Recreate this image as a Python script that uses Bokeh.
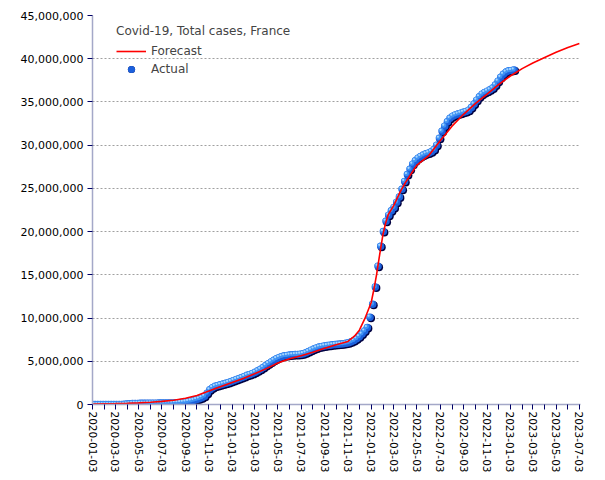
import pandas as pd
from bokeh.plotting import figure
from bokeh.models import (Range1d, FixedTicker, NumeralTickFormatter, DatetimeTickFormatter,
                          Legend, LegendItem, ColumnDataSource)
from bokeh.embed import file_html
from bokeh.resources import INLINE

# ---------------- data ----------------
title_text = "Covid-19, Total cases, France"

actual_start = "2020-01-03"   # weekly observations
actual_values_m = [
    0.0, 0.0, 0.0, 0.0, 0.0, 0.0, 0.0, 0.0, 0.0, 0.0,
    0.003, 0.012, 0.03, 0.06, 0.085, 0.105, 0.12, 0.13, 0.138, 0.142,
    0.145, 0.148, 0.152, 0.155, 0.158, 0.162, 0.166, 0.17, 0.175, 0.18,
    0.187, 0.2, 0.215, 0.24, 0.265, 0.3, 0.35, 0.41, 0.48, 0.57,
    0.66, 0.78, 0.96, 1.3, 1.7, 1.95, 2.1, 2.2, 2.28, 2.36,
    2.45, 2.55, 2.65, 2.78, 2.9, 3.0, 3.12, 3.25, 3.37, 3.48,
    3.6, 3.73, 3.9, 4.07, 4.28, 4.5, 4.72, 4.93, 5.12, 5.3,
    5.45, 5.55, 5.63, 5.68, 5.72, 5.75, 5.77, 5.79, 5.82, 5.88,
    5.98, 6.12, 6.28, 6.42, 6.55, 6.65, 6.72, 6.78, 6.82, 6.86,
    6.9, 6.93, 6.96, 6.99, 7.03, 7.08, 7.15, 7.25, 7.4, 7.6,
    7.85, 8.15, 8.5, 8.9, 10.1, 11.6, 13.6, 16.0, 18.3, 20.0,
    21.2, 21.9, 22.4, 22.8, 23.4, 24.0, 24.9, 25.8, 26.6, 27.2,
    27.8, 28.2, 28.5, 28.7, 28.85, 29.0, 29.1, 29.25, 29.5, 30.0,
    30.8, 31.6, 32.2, 32.7, 33.1, 33.35, 33.5, 33.6, 33.7, 33.8,
    33.9, 34.05, 34.35, 34.75, 35.2, 35.6, 35.9, 36.1, 36.25, 36.4,
    36.6, 36.95, 37.4, 37.85, 38.2, 38.45, 38.6, 38.65, 38.7,
]

forecast_dates = [
    "2020-01-03", "2020-02-03", "2020-03-03", "2020-04-03", "2020-05-03", "2020-06-03",
    "2020-07-03", "2020-08-03", "2020-09-03", "2020-10-03", "2020-11-03", "2020-12-03",
    "2021-01-03", "2021-02-03", "2021-03-03", "2021-04-03", "2021-05-03", "2021-06-03",
    "2021-07-03", "2021-08-03", "2021-09-03", "2021-10-03", "2021-11-03", "2021-11-20",
    "2021-12-03", "2021-12-17", "2022-01-03", "2022-01-10", "2022-01-17", "2022-01-24",
    "2022-02-03", "2022-02-10", "2022-02-17", "2022-03-03", "2022-03-20", "2022-04-03",
    "2022-05-03", "2022-06-03", "2022-07-03", "2022-08-03", "2022-09-03", "2022-10-03",
    "2022-11-03", "2022-12-03", "2023-01-03", "2023-02-03", "2023-03-03", "2023-04-03",
    "2023-05-03", "2023-06-03", "2023-07-03",
]
forecast_values_m = [
    0.05, 0.08, 0.1, 0.14, 0.19, 0.26,
    0.36, 0.5, 0.72, 1.05, 1.55, 2.05,
    2.55, 3.05, 3.55, 4.15, 4.8, 5.3,
    5.65, 6.05, 6.5, 6.9, 7.3, 7.9,
    8.6, 9.9, 11.8, 13.3, 15.0, 17.0,
    19.7, 21.0, 22.0, 23.0, 24.6, 25.7,
    27.7, 28.8, 30.5, 32.2, 33.6, 34.8,
    35.9, 37.0, 38.0, 38.85, 39.5, 40.15,
    40.75, 41.3, 41.75,
]

tick_labels = [
    "2020-01-03", "2020-03-03", "2020-05-03", "2020-07-03", "2020-09-03", "2020-11-03",
    "2021-01-03", "2021-03-03", "2021-05-03", "2021-07-03", "2021-09-03", "2021-11-03",
    "2022-01-03", "2022-03-03", "2022-05-03", "2022-07-03", "2022-09-03", "2022-11-03",
    "2023-01-03", "2023-03-03", "2023-05-03", "2023-07-03",
]
minor_tick_dates = [
    "2020-02-03", "2020-04-03", "2020-06-03", "2020-08-03", "2020-10-03", "2020-12-03",
    "2021-02-03", "2021-04-03", "2021-06-03", "2021-08-03", "2021-10-03", "2021-12-03",
    "2022-02-03", "2022-04-03", "2022-06-03", "2022-08-03", "2022-10-03", "2022-12-03",
    "2023-02-03", "2023-04-03", "2023-06-03",
]
y_ticks = [0, 5e6, 10e6, 15e6, 20e6, 25e6, 30e6, 35e6, 40e6, 45e6]

# ---------------- helpers ----------------
def to_ms(idx):
    return [float(v) for v in (pd.DatetimeIndex(idx).asi8 // 10**6)]

actual_dates = pd.date_range(actual_start, periods=len(actual_values_m), freq="7D")
ax = to_ms(actual_dates)
ay = [v * 1e6 for v in actual_values_m]
fx = to_ms(pd.to_datetime(forecast_dates))
fy = [v * 1e6 for v in forecast_values_m]

x_start = to_ms(pd.to_datetime(["2020-01-03"]))[0]
x_end = to_ms(pd.to_datetime(["2023-07-06"]))[0]
FRAME_W, FRAME_H = 488, 389
px_x = (x_end - x_start) / FRAME_W
px_y = 45e6 / FRAME_H

p = figure(width=600, height=478, output_backend="svg", toolbar_location=None,
           x_range=Range1d(x_start, x_end), y_range=Range1d(0, 45e6),
           min_border_left=92, min_border_right=20, min_border_top=15, min_border_bottom=74,
           background_fill_color="white", border_fill_color="white")
p.outline_line_color = None
p.xgrid.grid_line_color = None
p.ygrid.grid_line_color = "#a0a0a0"
p.ygrid.grid_line_dash = "2 2"
p.ygrid.grid_line_width = 1

AXIS_COL = "#a4a8c8"
TICK_COL = "#000066"
FONT = "DejaVu Sans"

p.xaxis.ticker = FixedTicker(ticks=to_ms(pd.to_datetime(tick_labels)),
                             minor_ticks=to_ms(pd.to_datetime(minor_tick_dates)))
fmt = "%Y-%m-%d"
p.xaxis.formatter = DatetimeTickFormatter(milliseconds=fmt, seconds=fmt, minsec=fmt, minutes=fmt,
                                          hourmin=fmt, hours=fmt, days=fmt, months=fmt, years=fmt)
p.xaxis.major_label_orientation = "vertical"
p.yaxis.ticker = FixedTicker(ticks=y_ticks)
p.yaxis.formatter = NumeralTickFormatter(format="0,0")
p.yaxis.minor_tick_line_color = None

for axis in (p.xaxis, p.yaxis):
    axis.axis_line_color = AXIS_COL
    axis.axis_line_width = 1.5
    axis.major_tick_line_color = TICK_COL
    axis.major_tick_out = 5
    axis.major_tick_in = 0
    axis.major_label_text_font = FONT
    axis.major_label_text_font_size = "11px"
    axis.major_label_text_color = "#000000"
    axis.major_label_standoff = 4
p.xaxis.major_label_text_font_size = "10.5px"
p.xaxis.major_label_standoff = 2
p.xaxis.minor_tick_line_color = TICK_COL
p.xaxis.minor_tick_out = 5
p.xaxis.minor_tick_in = 0

# ---------------- glyphs (shaded sphere markers) ----------------
shadow_src = ColumnDataSource(dict(x=[v + 1.0 * px_x for v in ax], y=[v - 1.0 * px_y for v in ay]))
body_src = ColumnDataSource(dict(x=ax, y=ay))
ring_src = ColumnDataSource(dict(x=[v - 1.0 * px_x for v in ax], y=[v + 1.0 * px_y for v in ay]))
hi_src = ColumnDataSource(dict(x=[v - 1.5 * px_x for v in ax], y=[v + 1.5 * px_y for v in ay]))

r_shadow = p.scatter("x", "y", source=shadow_src, size=8, fill_color="#000040", line_color=None)
r_body = p.scatter("x", "y", source=body_src, size=7.5, fill_color="#1c60dc", line_color=None)
r_ring = p.scatter("x", "y", source=ring_src, size=5, fill_color="#3f92f4", line_color=None)
r_hi = p.scatter("x", "y", source=hi_src, size=2.2, fill_color="#a8d6ff", line_color=None)

r_line = p.line(fx, fy, line_color="#ff0000", line_width=1.6)

legend = Legend(items=[LegendItem(label="Forecast", renderers=[r_line]),
                       LegendItem(label="Actual", renderers=[r_shadow, r_body])],
                location=(24, 326), title=title_text,
                border_line_color=None, background_fill_alpha=0,
                padding=0, margin=0, spacing=0,
                glyph_width=30, glyph_height=18, label_height=18,
                label_standoff=5, title_standoff=4)
legend.title_text_font = FONT
legend.title_text_font_size = "12px"
legend.title_text_font_style = "normal"
legend.label_text_font = FONT
legend.label_text_font_size = "12px"
p.add_layout(legend)

open("out.html", "w").write(file_html(p, INLINE))
